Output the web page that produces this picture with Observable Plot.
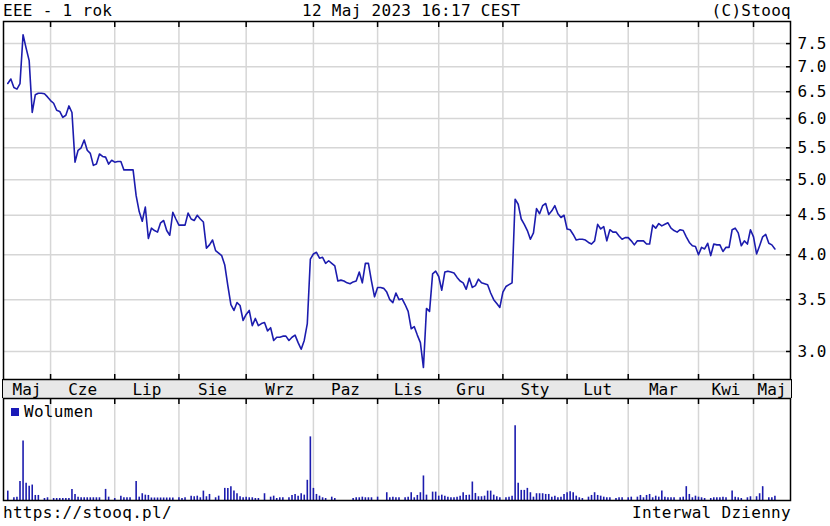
<!DOCTYPE html>
<html><head><meta charset="utf-8">
<script src="https://cdn.jsdelivr.net/npm/d3@7"></script>
<script src="https://cdn.jsdelivr.net/npm/@observablehq/plot@0.6"></script>
<style>
html,body{margin:0;padding:0;background:#fff;}
#chart{position:relative;width:830px;height:526px;font-family:"DejaVu Sans Mono",monospace;font-size:16px;color:#000;overflow:hidden;}
.t{position:absolute;white-space:pre;line-height:1;letter-spacing:0.3px;}
#band{position:absolute;left:2px;top:379px;width:789.5px;height:19px;box-sizing:border-box;background:#e8e8e8;border-left:1.5px solid #000;border-right:1.5px solid #000;}
#main,#vol{position:absolute;left:0;}
#main{top:0;} #vol{top:380px;}
#legsq{position:absolute;left:11px;top:408px;width:8px;height:8px;background:#1a1ab8;}
</style></head><body>
<div id="chart">
  <div id="band"></div>
  <div id="main"></div>
  <div id="vol"></div>
  <div class="t" style="left:3px;top:2.5px">EEE - 1 rok</div>
  <div class="t" style="left:302px;top:2.5px">12 Maj 2023 16:17 CEST</div>
  <div class="t" style="right:39px;top:2.5px">(C)Stooq</div>
  <div id="legsq"></div>
  <div class="t" style="left:24px;top:403.5px">Wolumen</div>
  <div class="t" style="left:3px;top:504.5px">https://stooq.pl/</div>
  <div class="t" style="right:39px;top:504.5px">Interwal Dzienny</div>
</div>
<script>
// ---- data ----
const firstDay = "2022-05-12";
const lastDay = "2023-05-12";
const holidays = ["2022-06-16","2022-08-15","2022-11-01","2022-11-11","2022-12-26",
                  "2023-01-06","2023-04-07","2023-04-10","2023-05-01","2023-05-03"];
const monthNames = ["Sty","Lut","Mar","Kwi","Maj","Cze","Lip","Sie","Wrz","Paz","Lis","Gru"];
const priceTicks = [3.0,3.5,4.0,4.5,5.0,5.5,6.0,6.5,7.0,7.5];
const priceDomain = [2.76, 8.01];
const xDomain = [-1.4, 256.1]; // trading-day index range shown
const volumeDomain = [0, 101];

// daily close (PLN), one per trading day
const close = [
6.66,6.75,6.58,6.55,6.66,7.70,7.40,7.13,6.11,6.44,
6.47,6.47,6.46,6.40,6.33,6.28,6.15,6.13,6.02,6.06,
6.23,6.11,5.27,5.46,5.50,5.63,5.46,5.41,5.22,5.24,
5.40,5.36,5.35,5.24,5.30,5.27,5.28,5.28,5.15,5.15,
5.15,5.15,4.77,4.55,4.42,4.61,4.20,4.33,4.30,4.28,
4.40,4.43,4.30,4.24,4.54,4.45,4.37,4.37,4.37,4.53,
4.45,4.43,4.50,4.45,4.41,4.08,4.12,4.18,4.05,4.02,
3.99,3.88,3.65,3.45,3.39,3.47,3.44,3.29,3.35,3.39,
3.24,3.31,3.24,3.26,3.27,3.19,3.22,3.10,3.13,3.13,
3.14,3.14,3.10,3.13,3.15,3.08,3.02,3.10,3.26,3.95,
4.01,4.03,3.96,3.97,3.90,3.93,3.90,3.87,3.70,3.71,
3.70,3.68,3.67,3.69,3.70,3.80,3.68,3.90,3.90,3.70,
3.53,3.63,3.63,3.62,3.58,3.50,3.47,3.57,3.50,3.51,
3.45,3.38,3.21,3.23,3.15,3.08,2.86,3.41,3.38,3.78,
3.81,3.75,3.60,3.80,3.81,3.80,3.79,3.74,3.70,3.68,
3.61,3.73,3.63,3.65,3.72,3.68,3.67,3.66,3.57,3.50,
3.46,3.42,3.58,3.64,3.66,3.68,4.72,4.65,4.45,4.38,
4.30,4.19,4.27,4.59,4.52,4.63,4.66,4.51,4.56,4.63,
4.52,4.47,4.50,4.32,4.31,4.25,4.18,4.19,4.19,4.18,
4.15,4.13,4.17,4.38,4.32,4.35,4.17,4.31,4.28,4.28,
4.23,4.19,4.21,4.21,4.17,4.12,4.17,4.17,4.17,4.13,
4.13,4.37,4.33,4.39,4.36,4.38,4.40,4.33,4.30,4.28,
4.31,4.30,4.22,4.15,4.11,4.10,4.00,4.09,4.07,4.14,
3.99,4.13,4.12,4.12,4.04,4.09,4.09,4.31,4.33,4.27,
4.11,4.17,4.13,4.31,4.22,4.01,4.11,4.22,4.25,4.14,
4.12,4.07
];

// daily volume (thousands of shares)
const volume = [
9.3,0,2.7,3.3,18.7,59,17,14,15.3,5,
5,0,2,2.7,0,2,2,2,2,2,
2,11,6,3.3,2.7,2.7,2.7,2.7,2.7,2.7,
2.7,0,11,3.3,0,2,0,4.3,2.7,2.7,
2.7,0,18.7,3.3,6.7,5.3,5,2.5,2.5,2.5,
2.5,2.5,2.5,2.5,2.5,0,2.7,2,2.7,0,
4.3,3.7,4.3,2.7,9.3,3.7,6,0,2.7,4.3,
0,12,12,13.7,9.3,6.7,3.7,2.7,3.3,2.7,
2.7,2,2,0,6.7,0,3.3,4.3,2,2.7,
2.7,0,2.7,5,6,4.3,6.7,5.3,20,63,
12,6,4.3,2.7,2,0,3.3,2,0,0,
0,0,0,2,2.7,2.7,3.3,2.7,2.7,2.7,
0,3.3,0,0,7.7,2.7,3.3,2.7,2.7,0,
2.7,3.3,7.7,2.7,5,7.7,24.3,5.3,0,8.3,
8.3,4.3,5.3,4.3,3.3,2.7,2.7,3.3,4.3,7.7,
5,5.3,18.3,7,3.7,3.7,4.3,9.3,9.3,5.3,
3.7,2.7,0,2.7,3.3,4.3,74,17,10,10,
12,7.7,3.3,6.7,6.7,6.7,6,6,3.3,4.3,
2.7,3.3,6,7.7,8.7,7.7,4.3,2.7,2,0,
3.3,5,7.7,5,4.3,3.3,2.7,2.7,0,2,
2.7,2.7,0,2.7,3.3,0,3.3,5,2.7,5,
6,2.7,4.3,3.3,9.3,3.3,2.7,2.7,2.7,0,
2.7,3.3,13.7,6,2.7,4.3,3.3,2.7,2,0,
2,2.7,2.7,2.7,3.3,2.7,0,9.3,3.3,2.7,
2,0,2.7,3.7,0,3.7,6.7,13.7,0,2.7,
2.7,4.3
];

// ---- build trading calendar ----
const dates = [];
for (let d = new Date(firstDay + "T12:00:00Z"); d <= new Date(lastDay + "T12:00:00Z"); d.setUTCDate(d.getUTCDate() + 1)) {
  const wd = d.getUTCDay();
  const s = d.toISOString().slice(0, 10);
  if (wd === 0 || wd === 6 || holidays.includes(s)) continue;
  dates.push(new Date(d));
}
const data = dates.map((date, i) => ({i, date, close: close[i], volume: volume[i]}));
const monthStarts = [];
for (let i = 1; i < dates.length; i++) if (dates[i].getUTCMonth() !== dates[i - 1].getUTCMonth()) monthStarts.push(i);
const bounds = [xDomain[0], ...monthStarts, xDomain[1]];
const monthLabels = [];
for (let k = 0; k < bounds.length - 1; k++) {
  const startIdx = k === 0 ? 0 : monthStarts[k - 1];
  monthLabels.push({pos: (bounds[k] + bounds[k + 1]) / 2, name: monthNames[dates[startIdx].getUTCMonth()]});
}
const labelPos = monthLabels.map(d => d.pos);
const labelName = new Map(monthLabels.map(d => [d.pos, d.name]));

const blue = "#1c1cae";
const gridColor = "#d6d6d6";
const font = {fontFamily: "DejaVu Sans Mono", fontSize: "16px", background: "transparent", color: "#000", overflow: "visible"};

const main = Plot.plot({
  width: 830, height: 380,
  marginTop: 21, marginBottom: 1, marginLeft: 3, marginRight: 40,
  style: font,
  x: {type: "linear", domain: xDomain},
  y: {type: "log", domain: priceDomain},
  marks: [
    Plot.gridY(priceTicks, {stroke: gridColor, strokeOpacity: 1, strokeWidth: 1.5}),
    Plot.gridX(monthStarts, {stroke: gridColor, strokeOpacity: 1, strokeWidth: 1.5}),
    Plot.line(data, {x: "i", y: "close", stroke: blue, strokeWidth: 1.6}),
    Plot.axisY(priceTicks, {anchor: "right", tickSize: -5, tickPadding: 12, tickFormat: d => d.toFixed(1), label: null, strokeWidth: 1.5, fontSize: 16}),
    Plot.axisX(monthStarts, {anchor: "top", tickSize: -5, tickFormat: () => "", label: null, strokeWidth: 1.5}),
    Plot.axisX(monthStarts, {anchor: "bottom", tickSize: -5, tickFormat: () => "", label: null, strokeWidth: 1.5}),
    Plot.frame({stroke: "#000", strokeWidth: 1.5})
  ]
});
document.getElementById("main").append(main);

const vol = Plot.plot({
  width: 830, height: 122,
  marginTop: 18, marginBottom: 2, marginLeft: 3, marginRight: 40,
  style: font,
  x: {type: "linear", domain: xDomain},
  y: {domain: volumeDomain},
  marks: [
    Plot.gridX(monthStarts, {stroke: gridColor, strokeOpacity: 1, strokeWidth: 1.5}),
    Plot.ruleX(data.filter(d => d.volume > 0), {x: "i", y1: 0, y2: "volume", stroke: blue, strokeWidth: 1.6}),
    Plot.axisX(monthStarts, {anchor: "top", tickSize: -5, tickFormat: () => "", label: null, strokeWidth: 1.5}),
    Plot.axisX(labelPos, {anchor: "top", tickSize: 0, tickPadding: 4, tickFormat: p => labelName.get(p), label: null, fontSize: 16}),
    Plot.axisY([], {label: null}),
    Plot.frame({stroke: "#000", strokeWidth: 1.5})
  ]
});
document.getElementById("vol").append(vol);
</script>
</body></html>
